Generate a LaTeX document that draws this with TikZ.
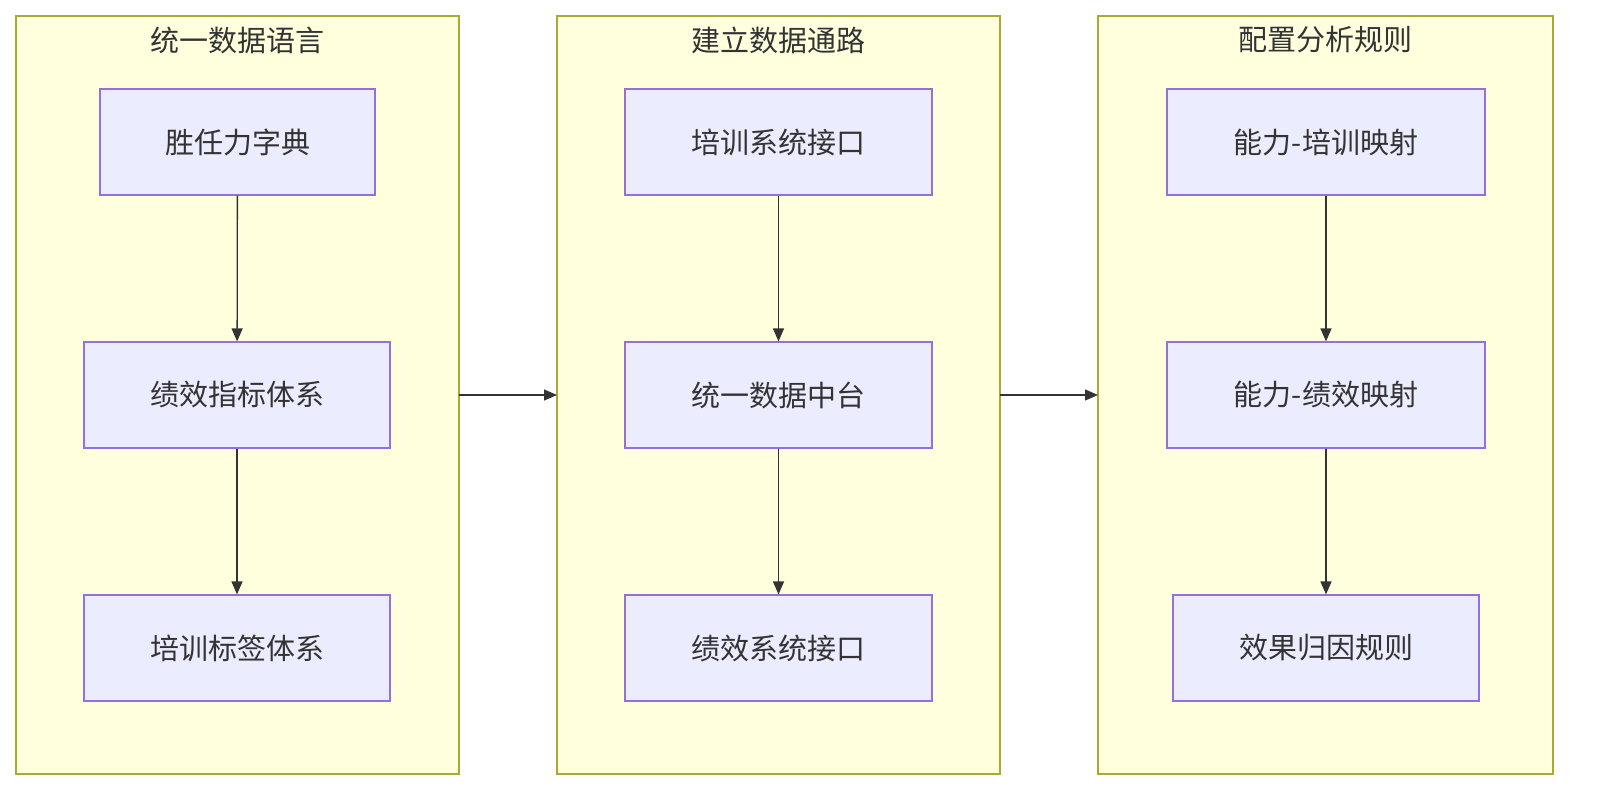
\documentclass[tikz,border=0pt]{standalone}
\usepackage{fontspec}
\setmainfont{Noto Sans CJK SC}
\usetikzlibrary{arrows.meta}
\definecolor{cfill}{HTML}{FFFFDE}
\definecolor{cline}{HTML}{AAAA33}
\definecolor{nfill}{HTML}{ECECFF}
\definecolor{nline}{HTML}{9370DB}
\definecolor{ink}{HTML}{333333}
\tikzset{
 clusterbox/.style={draw=cline,fill=cfill,line width=1.2pt},
 nodebox/.style={draw=nline,fill=nfill,line width=1.2pt,text=ink,font=\fontsize{29}{34}\selectfont},
 titletext/.style={text=ink,font=\fontsize{29}{34}\selectfont},
 conn/.style={draw=ink,line width=1.3pt,-{Triangle[length=13pt,width=11pt]}}
}
\newcommand{\bx}[6]{\node[nodebox,minimum width=#4-#2,minimum height=#5-#3,inner sep=0pt] (#1) at ({(#2+#4)/2},{(#3+#5)/2}) {#6};}
\begin{document}
\begin{tikzpicture}[x=1pt,y=-1pt]
\fill[white] (0,0) rectangle (1599,806);
\draw[clusterbox] (16,16) rectangle (459,774);
\draw[clusterbox] (557,16) rectangle (1000,774);
\draw[clusterbox] (1098,16) rectangle (1553,774);
\coordinate (c1e) at (459,395); \coordinate (c2w) at (557,395);
\coordinate (c2e) at (1000,395); \coordinate (c3w) at (1098,395);
\node[titletext] (t1) at (237.5,40) {统一数据语言};
\node[titletext] (t2) at (778.5,40) {建立数据通路};
\node[titletext] (t3) at (1325.5,40) {配置分析规则};
\bx{a1}{100}{89}{375}{195}{胜任力字典}
\bx{a2}{84}{342}{390}{448}{绩效指标体系}
\bx{a3}{84}{595}{390}{701}{培训标签体系}
\bx{b1}{625}{89}{932}{195}{培训系统接口}
\bx{b2}{625}{342}{932}{448}{统一数据中台}
\bx{b3}{625}{595}{932}{701}{绩效系统接口}
\bx{d1}{1167}{89}{1485}{195}{能力-培训映射}
\bx{d2}{1167}{342}{1485}{448}{能力-绩效映射}
\bx{d3}{1173}{595}{1479}{701}{效果归因规则}
\draw[conn] (a1) -- (a2); \draw[conn] (a2) -- (a3);
\draw[conn] (b1) -- (b2); \draw[conn] (b2) -- (b3);
\draw[conn] (d1) -- (d2); \draw[conn] (d2) -- (d3);
\draw[conn] (c1e) -- (c2w); \draw[conn] (c2e) -- (c3w);
\pgfresetboundingbox
\path[use as bounding box] (0,0) rectangle (1599,806);
\end{tikzpicture}
\end{document}
